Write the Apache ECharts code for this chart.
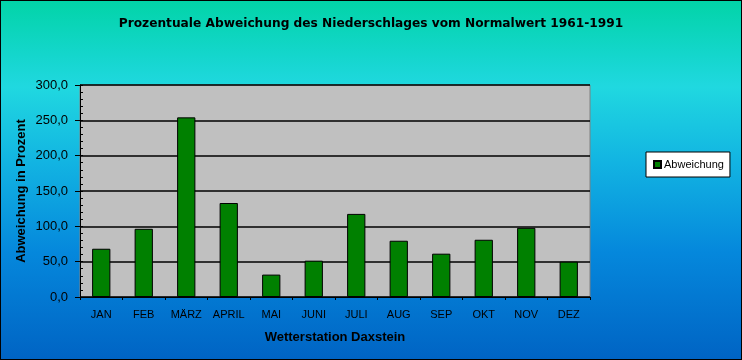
<!DOCTYPE html>
<html><head><meta charset="utf-8">
<script src="https://cdn.jsdelivr.net/npm/echarts@6/dist/echarts.min.js"></script>
<style>
html,body{margin:0;padding:0;}
#c{width:742px;height:360px;box-sizing:border-box;border:1px solid #000;
background:linear-gradient(to bottom,#02D4A8 0%,#14D6CC 15%,#20D8E0 24%,#12B4E2 45%,#0588DC 70%,#0064C4 100%);}
</style></head>
<body><div id="c"></div>
<script>
const categories = ['JAN','FEB','MÄRZ','APRIL','MAI','JUNI','JULI','AUG','SEP','OKT','NOV','DEZ'];
const abweichung = [68.3, 96.5, 254.2, 133.0, 31.7, 51.4, 117.6, 79.6, 61.3, 81.0, 97.9, 50.0];
const yTicks = {min: 0, max: 300, interval: 50};

const chart = echarts.init(document.getElementById('c'), null, {renderer: 'canvas'});
const font = 'Arial, "Liberation Sans", sans-serif';
const fmt = v => v.toFixed(1).replace('.', ',');
chart.setOption({
  backgroundColor: 'transparent',
  animation: false,
  title: {
    text: 'Prozentuale Abweichung des Niederschlages vom Normalwert 1961-1991',
    left: 'center', top: 12,
    textStyle: {fontFamily: '"DejaVu Sans", Arial, sans-serif', fontSize: 12.2, fontWeight: 'bold', color: '#000'}
  },
  legend: {
    data: ['Abweichung'],
    left: 645, top: 151, orient: 'vertical',
    backgroundColor: '#fff', borderColor: '#000', borderWidth: 1,
    padding: [7, 6, 7, 7], itemWidth: 7, itemHeight: 7, itemGap: 0,
    icon: 'rect',
    textStyle: {fontFamily: font, fontSize: 11, color: '#000', padding: [0, 0, 0, -2]}
  },
  grid: {
    left: 79, right: 151, top: 84, bottom: 62, containLabel: false,
    show: true, backgroundColor: '#C0C0C0', borderColor: '#808080', borderWidth: 1
  },
  xAxis: {
    type: 'category', data: categories,
    name: 'Wetterstation Daxstein', nameLocation: 'middle', nameGap: 34,
    nameTextStyle: {fontFamily: font, fontSize: 13, fontWeight: 'bold', color: '#000'},
    axisLine: {lineStyle: {color: '#000', width: 1}},
    axisTick: {show: true, length: 3, lineStyle: {color: '#000'}},
    axisLabel: {fontFamily: font, fontSize: 11, color: '#000', margin: 12, interval: 0}
  },
  yAxis: [{
    type: 'value', min: yTicks.min, max: yTicks.max, interval: yTicks.interval,
    axisLine: {show: true, lineStyle: {color: '#000', width: 1}},
    axisTick: {show: true, inside: true, length: 3, lineStyle: {color: '#000'}},
    minorTick: {show: true, splitNumber: 5, length: 3, lineStyle: {color: '#000'}},
    splitLine: {show: true, lineStyle: {color: '#000', width: 1.5}},
    axisLabel: {fontFamily: font, fontSize: 13, color: '#000', margin: 12, formatter: fmt}
  }, {
    type: 'value', min: yTicks.min, max: yTicks.max, interval: yTicks.interval,
    position: 'left',
    name: 'Abweichung in Prozent', nameLocation: 'middle', nameGap: 52, nameRotate: 90,
    nameTextStyle: {fontFamily: font, fontSize: 13, fontWeight: 'bold', color: '#000'},
    axisLine: {show: false},
    axisTick: {show: true, inside: false, length: 5, lineStyle: {color: '#000'}},
    splitLine: {show: false},
    axisLabel: {show: false}
  }],
  series: [{
    name: 'Abweichung', type: 'bar', data: abweichung,
    barWidth: '43%',
    itemStyle: {color: '#008000', borderColor: '#000', borderWidth: 1}
  }]
});
</script></body></html>
